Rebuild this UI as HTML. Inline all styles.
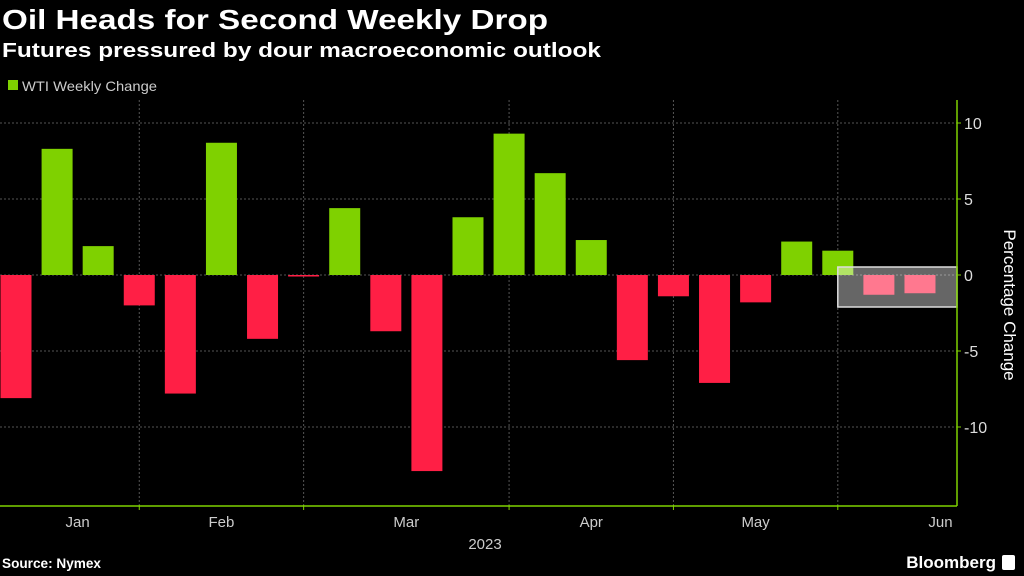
<!DOCTYPE html>
<html><head><meta charset="utf-8"><style>
html,body{margin:0;padding:0;background:#000;width:1024px;height:576px;overflow:hidden}
svg{display:block;font-family:"Liberation Sans",sans-serif}
</style></head><body>
<svg id="chart" width="1024" height="576">
<text x="2" y="29" fill="#fff" font-size="28" font-weight="bold" textLength="546" lengthAdjust="spacingAndGlyphs">Oil Heads for Second Weekly Drop</text>
<text x="2" y="57" fill="#fff" font-size="20" font-weight="bold" textLength="599" lengthAdjust="spacingAndGlyphs">Futures pressured by dour macroeconomic outlook</text>
<rect x="8" y="80" width="10" height="10" fill="#7fd100"/>
<text x="22" y="91" fill="#ccc" font-size="14" textLength="135" lengthAdjust="spacingAndGlyphs">WTI Weekly Change</text>
<g id="grid"></g><g id="bars"></g><g id="axes"></g>
<text transform="translate(1004,305) rotate(90)" text-anchor="middle" fill="#fff" font-size="17">Percentage Change</text>
<text x="485" y="549" text-anchor="middle" fill="#ccc" font-size="15">2023</text>
<text x="2" y="568" fill="#fff" font-size="14" font-weight="bold" textLength="99" lengthAdjust="spacingAndGlyphs">Source: Nymex</text>
<text x="996" y="568" text-anchor="end" fill="#fff" font-size="17" font-weight="bold">Bloomberg</text>
<rect x="1002" y="555" width="13" height="15" rx="2" fill="#fff"/>
</svg>
<script>
const values=[-8.1,8.3,1.9,-2.0,-7.8,8.7,-4.2,-0.1,4.4,-3.7,-12.9,3.8,9.3,6.7,2.3,-5.6,-1.4,-7.1,-1.8,2.2,1.6,-1.3,-1.2];
const yTicks=[10,5,0,-5,-10];
const months=["Jan","Feb","Mar","Apr","May","Jun"];
const monthPos=[1.5,5,9.5,14,18,22.5];
const monthBounds=[3,7,12,16,20];
const highlightStart=20;
const NS="http://www.w3.org/2000/svg";
const y=v=>275-v*15.2;
const x=i=>16+i*41.09;
function mk(t,a,p){const e=document.createElementNS(NS,t);for(const k in a)e.setAttribute(k,a[k]);p.appendChild(e);return e;}
const grid=document.getElementById('grid'),bars=document.getElementById('bars'),axes=document.getElementById('axes');
yTicks.forEach(t=>{
 const l=mk('line',{x1:0,x2:957,y1:y(t),y2:y(t),stroke:'#555','stroke-dasharray':'2,2'},grid);
 
 
 const tx=mk('text',{x:964,y:y(t)+6,fill:'#ddd','font-size':16},axes);tx.textContent=t;
 
 
 mk('line',{x1:957,x2:961,y1:y(t),y2:y(t),stroke:'#7fd100'},axes);
});
monthBounds.forEach(b=>{
 const xx=x(b);
 const l=mk('line',{x1:xx,x2:xx,y1:100,y2:505,stroke:'#555','stroke-dasharray':'2,2'},grid);
 
 
 mk('line',{x1:xx,x2:xx,y1:505,y2:510,stroke:'#7fd100'},axes);
});
values.forEach((v,i)=>{
 const r=mk('rect',{x:x(i)-15.5,width:31,y:Math.min(y(v),y(0)),height:Math.max(Math.abs(y(v)-y(0)),1),fill:v>=0?'#7fd100':'#ff1f45'},bars);
 
 
});
const hb=mk('rect',{x:x(highlightStart),y:267,width:957-x(highlightStart),height:40,fill:'rgba(255,255,255,0.4)',stroke:'#ddd','stroke-width':1.5},bars);


mk('line',{x1:957,x2:957,y1:100,y2:506,stroke:'#7fd100','stroke-width':1.5},axes);
mk('line',{x1:0,x2:957,y1:506,y2:506,stroke:'#7fd100','stroke-width':1.5},axes);
months.forEach((m,i)=>{
 const tx=mk('text',{x:x(monthPos[i]),y:527,fill:'#ccc','font-size':15,'text-anchor':'middle'},axes);tx.textContent=m;
 
 
});
</script>
</body></html>
